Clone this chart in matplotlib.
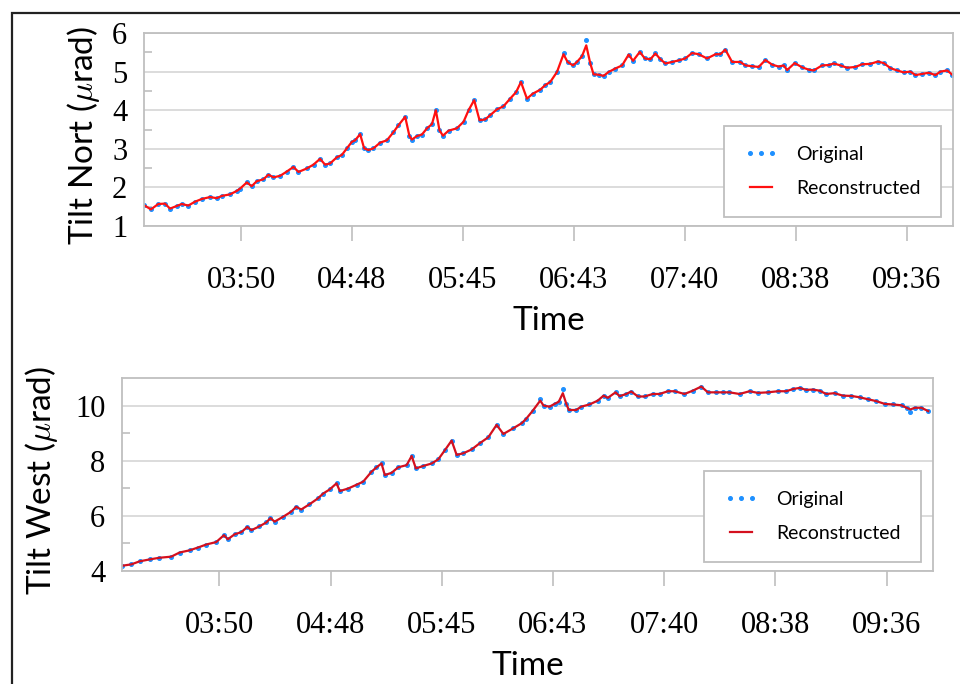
import matplotlib
matplotlib.use("Agg")
import matplotlib.pyplot as plt
import matplotlib.patches as patches

plt.rcParams["mathtext.fontset"] = "cm"

# time stamps are minutes after midnight, tilt in microradians
north_time = [180.0, 183.6, 187.4, 190.9, 193.5, 197.0, 199.6, 203.0, 206.5, 210.0,
              214.3, 217.8, 220.4, 224.7, 228.2, 229.9, 233.4, 235.9, 238.5, 242.0,
              244.6, 247.2, 250.7, 254.1, 257.6, 260.2, 264.5, 268.0, 271.4, 274.0,
              276.6, 280.1, 282.7, 285.3, 287.9, 289.6, 292.2, 294.3, 296.5, 299.1,
              302.6, 306.1, 309.5, 312.1, 315.6, 317.8, 319.1, 321.7, 324.3, 326.9,
              329.5, 331.5, 333.4, 335.2, 338.1, 342.4, 345.9, 348.5, 351.4, 354.2,
              357.1, 359.7, 363.2, 366.6, 370.1, 373.2, 375.7, 378.8, 381.9, 385.7,
              388.3, 390.9, 394.4, 397.8, 399.9, 402.7, 404.8, 407.4, 409.6, 411.7,
              413.4, 416.0, 418.6, 421.2, 424.7, 428.2, 431.6, 433.9, 437.4, 440.0,
              442.9, 445.5, 448.1, 450.7, 454.1, 457.6, 461.0, 464.5, 468.0, 472.3,
              476.7, 479.2, 481.8, 485.3, 489.6, 492.2, 495.7, 499.1, 502.6, 506.1,
              509.5, 512.1, 513.9, 517.8, 521.7, 525.1, 527.7, 532.0, 535.5, 538.1,
              541.6, 545.0, 549.3, 552.8, 557.1, 560.9, 564.1, 567.5, 571.0, 574.4,
              577.9, 580.5, 584.0, 587.4, 590.9, 593.5, 597.0, 599.6]
north_orig = [1.54, 1.43, 1.57, 1.58, 1.45, 1.52, 1.57, 1.53, 1.63, 1.70,
              1.75, 1.72, 1.78, 1.82, 1.91, 1.97, 2.13, 2.03, 2.16, 2.21,
              2.33, 2.26, 2.30, 2.41, 2.53, 2.40, 2.49, 2.59, 2.74, 2.59,
              2.62, 2.78, 2.84, 3.01, 3.18, 3.22, 3.38, 3.01, 2.97, 3.01,
              3.16, 3.22, 3.43, 3.61, 3.83, 3.33, 3.24, 3.33, 3.37, 3.53,
              3.64, 4.00, 3.48, 3.34, 3.47, 3.53, 3.70, 4.00, 4.26, 3.74,
              3.76, 3.87, 4.02, 4.10, 4.30, 4.47, 4.73, 4.30, 4.43, 4.53,
              4.65, 4.73, 4.99, 5.49, 5.25, 5.16, 5.25, 5.40, 5.83, 5.21,
              4.93, 4.92, 4.89, 4.99, 5.08, 5.16, 5.44, 5.28, 5.51, 5.34,
              5.32, 5.47, 5.32, 5.21, 5.25, 5.29, 5.34, 5.48, 5.45, 5.34,
              5.45, 5.45, 5.57, 5.25, 5.25, 5.16, 5.14, 5.12, 5.30, 5.18,
              5.13, 5.16, 5.04, 5.22, 5.11, 5.05, 5.03, 5.16, 5.17, 5.21,
              5.16, 5.10, 5.12, 5.19, 5.20, 5.26, 5.22, 5.09, 5.03, 4.98,
              5.00, 4.91, 4.94, 4.97, 4.91, 5.00, 5.03, 4.92]
# reconstruction follows the samples except at the sharpest peaks
north_recon_peaks = {409.6: 5.68, 397.8: 5.45}

west_time = [180.0, 184.8, 189.1, 194.3, 199.4, 205.5, 209.8, 215.0, 219.3, 223.6,
             228.8, 232.8, 234.8, 238.3, 241.8, 244.9, 247.0, 251.2, 254.7, 256.9,
             259.0, 263.3, 267.6, 270.2, 272.8, 277.1, 281.4, 284.2, 287.6, 291.1,
             292.8, 297.1, 301.5, 304.9, 309.2, 311.8, 314.4, 316.1, 319.6, 323.0,
             327.4, 330.0, 332.2, 336.0, 340.4, 343.8, 347.3, 350.7, 353.3, 356.8,
             361.1, 365.2, 369.7, 374.0, 377.5, 382.7, 387.0, 389.3, 392.8, 396.6,
             398.3, 401.4, 404.0, 406.2, 408.3, 410.1, 411.4, 415.2, 417.8, 422.1,
             426.4, 429.4, 431.6, 435.6, 437.7, 441.1, 443.7, 447.2, 450.6, 454.9,
             458.4, 462.7, 466.2, 471.3, 475.6, 480.0, 483.4, 487.7, 491.2, 494.6,
             499.8, 505.0, 509.3, 514.5, 519.7, 524.0, 527.5, 530.9, 534.4, 537.8,
             541.3, 544.7, 549.0, 553.3, 557.7, 562.0, 566.3, 570.7, 575.0, 579.3,
             583.7, 586.3, 588.3, 590.6, 594.0, 597.5]
west_orig = [4.19, 4.24, 4.35, 4.42, 4.48, 4.52, 4.67, 4.75, 4.85, 4.96,
             5.05, 5.30, 5.15, 5.33, 5.41, 5.60, 5.48, 5.62, 5.76, 5.92,
             5.79, 5.96, 6.15, 6.33, 6.23, 6.42, 6.63, 6.81, 6.96, 7.18,
             6.90, 6.99, 7.13, 7.24, 7.60, 7.76, 7.90, 7.48, 7.56, 7.76,
             7.84, 8.17, 7.72, 7.81, 7.90, 8.05, 8.39, 8.73, 8.21, 8.27,
             8.41, 8.63, 8.85, 9.30, 8.97, 9.18, 9.36, 9.52, 9.82, 10.24,
             10.00, 9.96, 10.06, 10.14, 10.60, 10.06, 9.84, 9.84, 9.96, 10.04,
             10.18, 10.36, 10.28, 10.48, 10.34, 10.42, 10.51, 10.33, 10.33, 10.42,
             10.42, 10.52, 10.52, 10.42, 10.54, 10.69, 10.48, 10.48, 10.48, 10.48,
             10.42, 10.52, 10.46, 10.48, 10.52, 10.52, 10.60, 10.64, 10.57, 10.58,
             10.54, 10.42, 10.45, 10.36, 10.35, 10.30, 10.23, 10.16, 10.06, 10.04,
             10.01, 9.92, 9.78, 9.92, 9.92, 9.80]
west_recon_peaks = {396.6: 10.18, 408.3: 10.45, 588.3: 9.86}

north_recon = [north_recon_peaks.get(t, v) for t, v in zip(north_time, north_orig)]
west_recon = [west_recon_peaks.get(t, v) for t, v in zip(west_time, west_orig)]

# axis ticks every 0.04 day
tick_days = [0.16, 0.20, 0.24, 0.28, 0.32, 0.36, 0.40]
tick_labels = ["03:50", "04:48", "05:45", "06:43", "07:40", "08:38", "09:36"]
tick_minutes = [d * 1440 for d in tick_days]

SERIF = "Liberation Serif"
SANS = "Lato"
GRID = "#d9d9d9"
SPINE = "#bfbfbf"
BLUE = "#1e90ff"


def style_axes(ax, ylim, major, minor, ylabel, label_x):
    for s in ax.spines.values():
        s.set_color(SPINE)
        s.set_linewidth(1.3)
    ax.set_xlim(180, 600)
    ax.set_ylim(*ylim)
    ax.set_yticks(major)
    ax.set_yticks(minor, minor=True)
    ax.grid(axis="y", color=GRID, linewidth=1.3)
    ax.set_axisbelow(True)
    ax.set_xticks(tick_minutes)
    ax.set_xticklabels(tick_labels, family=SERIF, fontsize=22)
    for lab in ax.get_yticklabels():
        lab.set_family(SERIF)
        lab.set_fontsize(22)
    ax.tick_params(axis="x", direction="out", length=11, width=1.2,
                   color=SPINE, pad=18)
    ax.tick_params(axis="y", which="major", length=0, pad=12)
    ax.tick_params(axis="y", which="minor", direction="in", length=6,
                   width=1.2, color=SPINE)
    ax.set_xlabel("Time", family=SANS, fontsize=24, labelpad=8)
    ax.set_ylabel(ylabel, family=SANS, fontsize=24)
    ax.yaxis.set_label_coords(label_x, 0.47)
    leg = ax.legend(loc="lower right", bbox_to_anchor=(0.985, 0.047),
                    borderaxespad=0, fancybox=False, framealpha=1,
                    edgecolor=SPINE, numpoints=3, borderpad=1.05,
                    labelspacing=0.85, handlelength=1.7, handletextpad=0.95,
                    prop={"family": SANS, "size": 14})
    leg.get_frame().set_linewidth(1.3)


fig = plt.figure(figsize=(9.6, 6.84), dpi=100)

ax1 = fig.add_axes([144 / 960, 1 - 226 / 684, 809 / 960, 193 / 684])
ax1.plot(north_time, north_orig, linestyle="none", marker="o", ms=2.6,
         color=BLUE, label="Original")
ax1.plot(north_time, north_recon, color="#ff1010", lw=1.6, label="Reconstructed")
style_axes(ax1, (1, 6), [1, 2, 3, 4, 5, 6], [1.5, 2.5, 3.5, 4.5, 5.5],
           "Tilt Nort ($\\mu$rad)", -0.052)

ax2 = fig.add_axes([122 / 960, 1 - 571 / 684, 811 / 960, 193 / 684])
ax2.plot(west_time, west_orig, linestyle="none", marker="o", ms=2.6,
         color=BLUE, label="Original")
ax2.plot(west_time, west_recon, color="#d4101e", lw=1.6, label="Reconstructed")
style_axes(ax2, (4, 11), [4, 6, 8, 10], [5, 7, 9],
           "Tilt West ($\\mu$rad)", -0.076)

# outer frame around both panels
fig.add_artist(patches.Rectangle((12 / 960, -0.05), 1.1, 1 - 13 / 684 + 0.05,
                                 transform=fig.transFigure, fill=False,
                                 edgecolor="#222222", linewidth=1.6))

fig.savefig("out.png", dpi=100)
